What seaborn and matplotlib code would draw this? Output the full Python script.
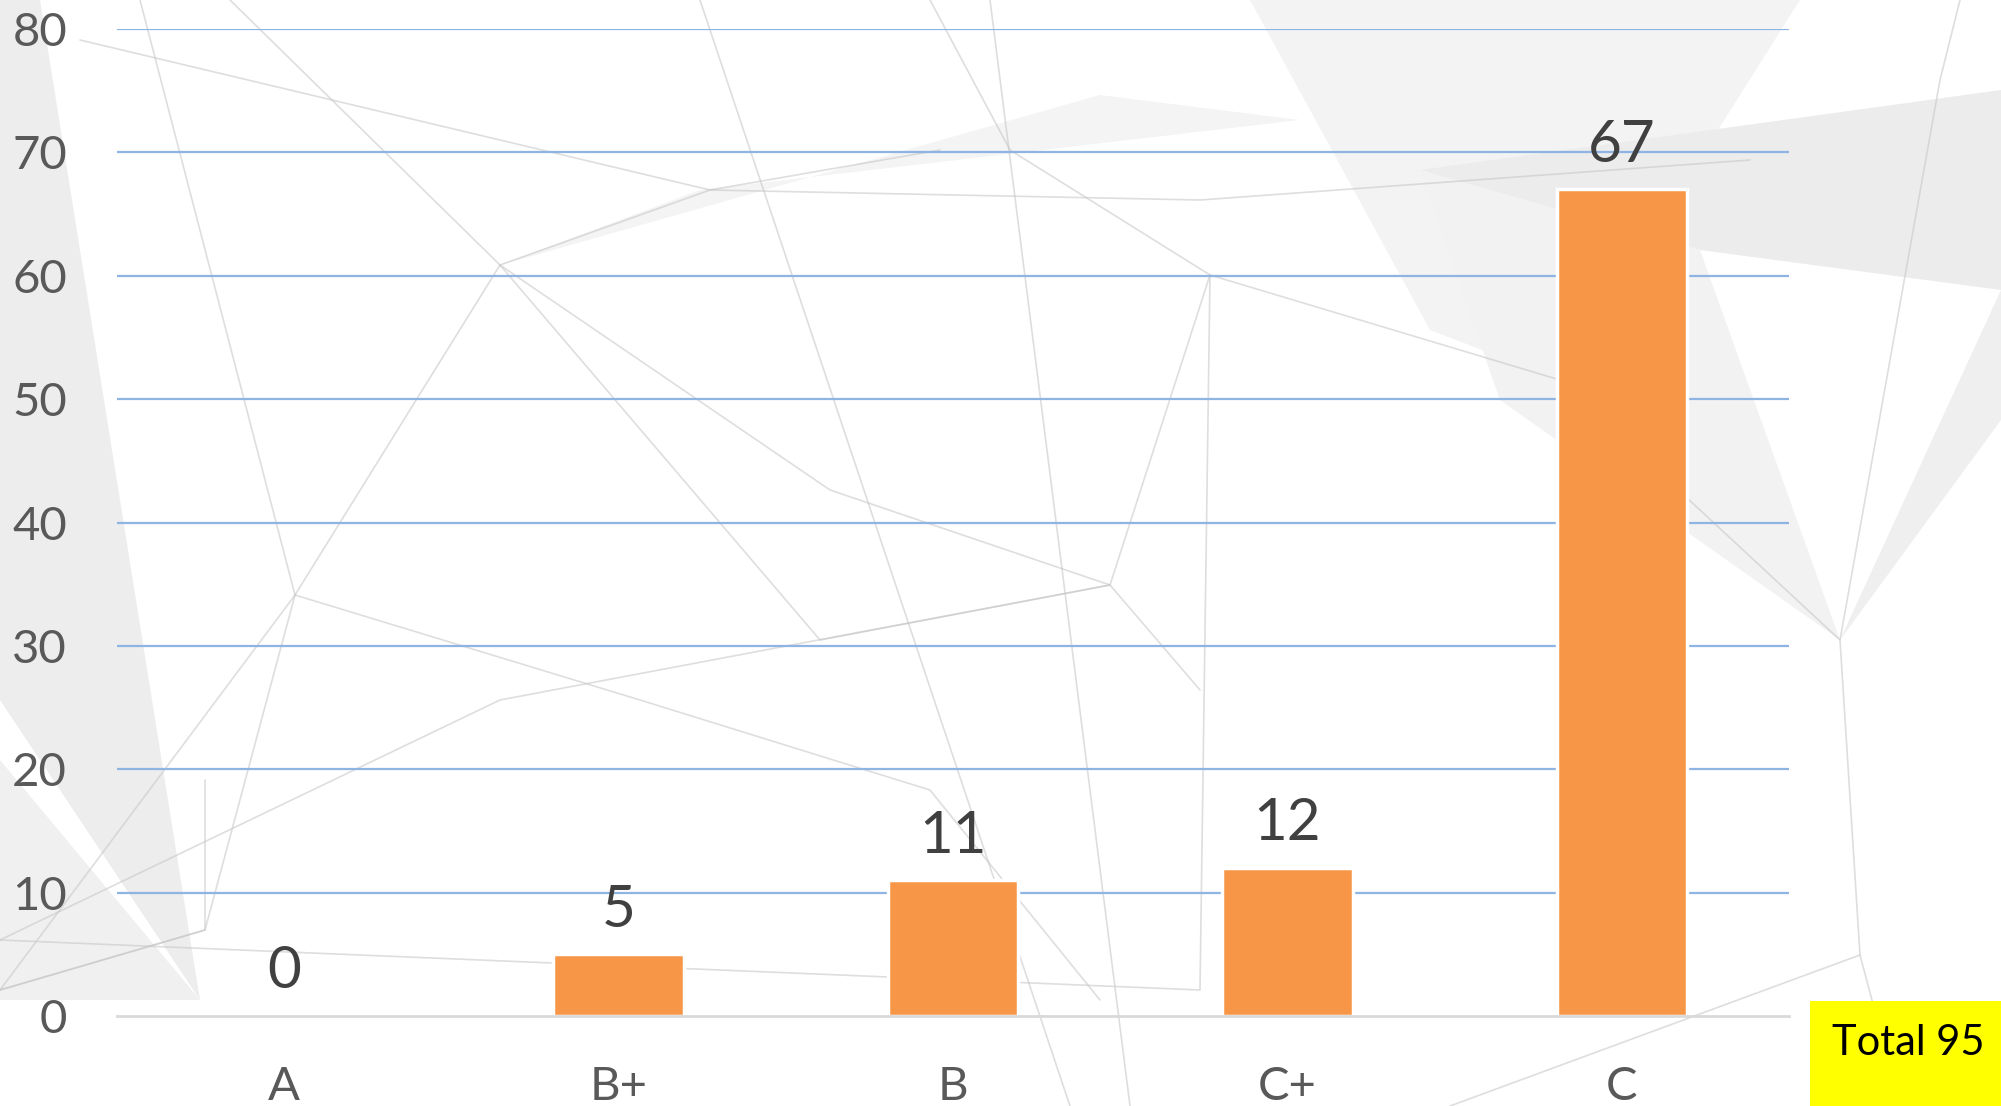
import matplotlib
matplotlib.use("Agg")
import matplotlib.pyplot as plt
import seaborn as sns
import pandas as pd
from matplotlib.patches import Polygon, Rectangle

# ---- data ----
grades = ["A", "B+", "B", "C+", "C"]
counts = [0, 5, 11, 12, 67]
y_ticks = [0, 10, 20, 30, 40, 50, 60, 70, 80]
total_label = "Total 95"

df = pd.DataFrame({"grade": grades, "count": counts})

sns.set_theme(style="white")
plt.rcParams["font.family"] = ["Lato", "DejaVu Sans"]

W, H = 2001, 1106
fig = plt.figure(figsize=(W / 100, H / 100), dpi=100)
fig.patch.set_facecolor("white")

# ---- decorative background (faint geometric texture), pixel coords ----
bg = fig.add_axes([0, 0, 1, 1], zorder=-10)
bg.set_xlim(0, W)
bg.set_ylim(H, 0)
bg.axis("off")

shapes = [
    ([(0, 0), (40, 0), (200, 1000), (0, 700)], "#ededed"),
    ([(0, 760), (200, 1000), (0, 1000)], "#f0f0f0"),
    ([(1250, 0), (1800, 0), (1560, 380), (1430, 330)], "#f3f3f3"),
    ([(1420, 170), (2001, 90), (2001, 290), (1700, 250)], "#ececec"),
    ([(1420, 170), (1700, 250), (1840, 640), (1500, 400)], "#f2f2f2"),
    ([(500, 265), (1100, 95), (1300, 120), (700, 190)], "#f4f4f4"),
    ([(1840, 640), (2001, 290), (2001, 420)], "#efefef"),
]
for pts, col in shapes:
    bg.add_patch(Polygon(pts, closed=True, facecolor=col, edgecolor="none"))

lines = [
    [(140, 0), (295, 595), (205, 930), (0, 990)],
    [(0, 990), (295, 595), (500, 265), (710, 190), (940, 150)],
    [(500, 265), (830, 490), (1110, 585), (1200, 690)],
    [(295, 595), (640, 700), (930, 790), (1100, 1000)],
    [(80, 40), (710, 190), (1200, 200), (1750, 160)],
    [(0, 940), (500, 700), (1110, 585)],
    [(230, 0), (500, 265), (820, 640), (1110, 585), (1210, 275)],
    [(930, 0), (1010, 150), (1210, 275), (1560, 380)],
    [(1560, 380), (1840, 640), (1940, 80), (1960, 0)],
    [(1840, 640), (1860, 955), (1900, 1106)],
    [(1860, 955), (1450, 1106)],
    [(1210, 275), (1200, 990), (0, 940)],
    [(205, 780), (205, 930), (0, 990)],
    [(700, 0), (1070, 1106)],
    [(990, 0), (1130, 1106)],
]
for pts in lines:
    bg.plot([x for x, _ in pts], [y for _, y in pts], color="#c8c8c8",
            lw=1.2, alpha=0.6)

# ---- main axes ----
ax = fig.add_axes([117 / W, 1 - 1016 / H, (1789 - 117) / W, (1016 - 29) / H],
                  zorder=1)
ax.set_facecolor("none")

sns.barplot(data=df, x="grade", y="count", ax=ax, color="#F79646",
            width=0.39, edgecolor="white", linewidth=2.5, saturation=1,
            zorder=3)

ax.set_ylim(0, 80)
ax.set_xlim(-0.5, len(grades) - 0.5)
ax.set_yticks(y_ticks)
ax.set_xlabel("")
ax.set_ylabel("")

for y in y_ticks[1:]:
    ax.axhline(y, color="#8EB4E3", lw=1.6, zorder=1)

for s in ["top", "right", "left"]:
    ax.spines[s].set_visible(False)
ax.spines["bottom"].set_color("#D9D9D9")
ax.spines["bottom"].set_linewidth(2)
ax.spines["bottom"].set_zorder(4)

ax.tick_params(axis="y", length=0, pad=36, labelsize=34, labelcolor="#595959")
ax.tick_params(axis="x", which="major", length=0, pad=36, labelsize=34,
               labelcolor="#595959")
ax.set_xticks([i - 0.5 for i in range(len(grades) + 1)], minor=True)
ax.tick_params(axis="x", which="minor", length=12, width=2, color="#D9D9D9",
               direction="out")

for i, v in enumerate(counts):
    ax.annotate(str(v), xy=(i, v), xytext=(0, 20), textcoords="offset points",
                ha="center", va="baseline", fontsize=42, color="#404040",
                zorder=5)

# ---- total box ----
top = fig.add_axes([0, 0, 1, 1], zorder=10)
top.set_xlim(0, W)
top.set_ylim(H, 0)
top.axis("off")
top.add_patch(Rectangle((1810, 1001), W - 1810, H - 1001,
                        facecolor="#FFFF00", edgecolor="none"))
top.text(1832, 1055, total_label, fontsize=30, color="black",
         ha="left", va="baseline")

fig.savefig("out.png", dpi=100, facecolor=fig.get_facecolor())
